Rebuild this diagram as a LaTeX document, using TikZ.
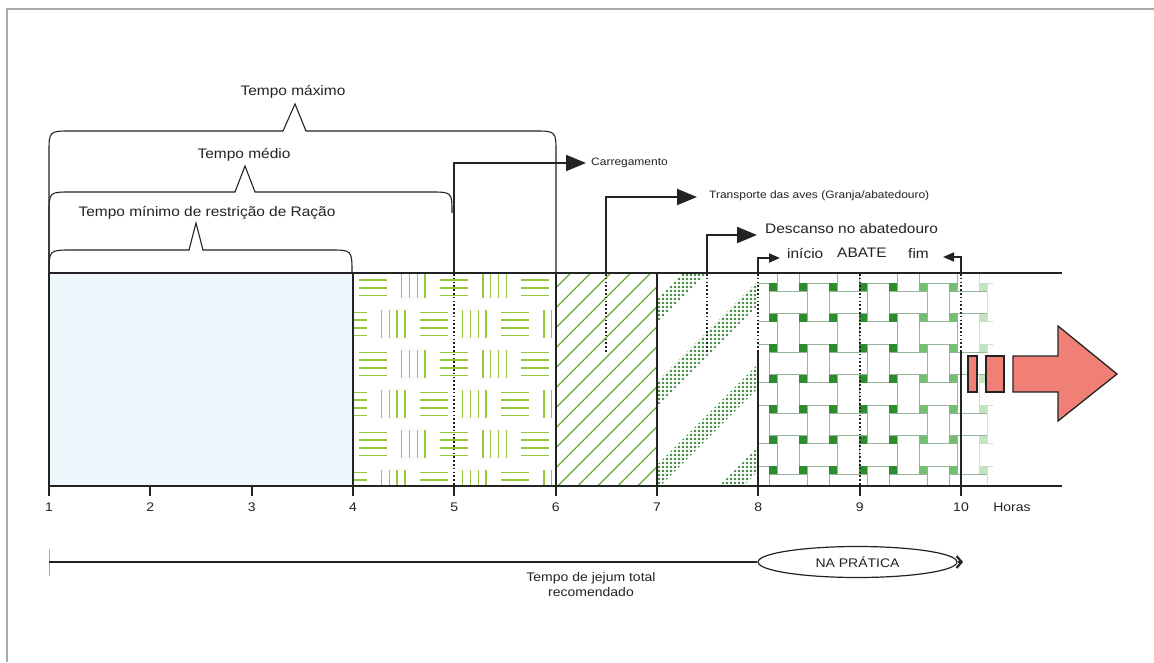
\documentclass[tikz,border=0pt]{standalone}
\usepackage{fontspec}
\setmainfont[FakeStretch=1.12]{Liberation Sans}
\usetikzlibrary{arrows.meta,shapes.geometric}
\definecolor{ink}{RGB}{35,35,35}
\definecolor{framegray}{RGB}{170,170,170}
\definecolor{bandblue}{RGB}{237,247,252}
\definecolor{limeg}{RGB}{150,200,60}
\definecolor{hatchg}{RGB}{105,172,50}
\definecolor{dotg}{RGB}{60,135,60}
\definecolor{weave}{RGB}{45,140,45}
\definecolor{weavemid}{RGB}{115,190,115}
\definecolor{weavefaint}{RGB}{195,228,195}
\definecolor{wline}{RGB}{150,180,150}
\definecolor{wlinefaint}{RGB}{210,225,210}
\definecolor{salmon}{RGB}{240,128,118}
\tikzset{
  bandline/.style={draw=ink, line width=1.8pt},
  brack/.style={draw=ink, line width=1.1pt},
  bigarrow/.style={draw=ink, line width=2pt, -{Triangle[length=20pt,width=16pt]}},
  smallarrow/.style={draw=ink, line width=1.8pt, -{Triangle[length=11pt,width=9pt]}},
  dotline/.style={draw=ink, line width=2pt, dash pattern=on 1.6pt off 2.2pt},
  greenline/.style={draw=limeg, line width=1.4pt},
  hatchline/.style={draw=hatchg, line width=1.3pt},
  bigtxt/.style={font=\fontsize{13.8}{16}\selectfont, inner sep=2pt, text=ink},
  smalltxt/.style={font=\fontsize{10.7}{13}\selectfont, inner sep=2pt, text=ink},
  axistxt/.style={font=\fontsize{12.5}{15}\selectfont, inner sep=1pt, text=ink},
  redbox/.style={fill=salmon, draw=ink, line width=1.3pt},
}
\begin{document}
\begin{tikzpicture}[x=1pt,y=-1pt]
\useasboundingbox (0,0) rectangle (1154,662);
\fill[white] (0,0) rectangle (1154,662);
% frame
\draw[framegray, line width=1.4pt] (7,662) -- (7,9) -- (1154,9);

% ---- region 1-4 : light blue
\fill[bandblue] (49,273) rectangle (353,486);

% ---- region 4-6 : groups of lines
\begin{scope}
\clip (353,273) rectangle (556,486);
\foreach \j in {0,...,5}{
  \pgfmathsetmacro\cy{284+40*\j}
  \pgfmathsetmacro\off{mod(\j,2)==0 ? 20.3 : 0}
  \foreach \k in {-1,...,6}{
    \pgfmathsetmacro\cx{352.5+\off+40.6*\k}
    \pgfmathtruncatemacro\hv{mod(\k+2,2)}
    \ifnum\hv=0
      \foreach \d in {-11.7,-3.9,3.9,11.7}
        \draw[greenline] (\cx-14,\cy+\d) -- (\cx+14,\cy+\d);
    \else
      \foreach \d in {-11.7,-3.9,3.9,11.7}
        \draw[greenline] (\cx+\d,\cy-14) -- (\cx+\d,\cy+14);
    \fi
  }
}
\end{scope}

% ---- region 6-7 : diagonal hatching
\begin{scope}
\clip (556,273) rectangle (657,486);
\foreach \c in {803.7,823.7,...,1163.7}
  \draw[hatchline] (540,\c-540) -- (680,\c-680);
\end{scope}

% ---- region 7-8 : dotted diagonal bands
\begin{scope}
\clip (657,273) rectangle (758,486);
\path[clip] \foreach \s in {956,1039,1122,1205} {
  (640,\s-640) -- (790,\s-790) -- (790,\s+24-790) -- (640,\s+24-640) -- cycle };
\foreach \x in {659,663,...,757}
  \foreach \y in {275,279,...,485}
    \fill[dotg] (\x,\y) circle (1.35);
\end{scope}

% ---- region 8-10 : basket weave
\begin{scope}
\clip (758,273) rectangle (993,486);
\foreach \i in {-1,...,7}{
  \foreach \j in {-1,...,7}{
    \pgfmathsetmacro\X{773+30*\i}
    \pgfmathsetmacro\Xn{\X+30}
    \pgfmathsetmacro\Y{287+30.5*\j}
    \pgfmathsetmacro\Yn{\Y+30.5}
    \pgfmathtruncatemacro\pq{mod(\i+\j+4,2)}
    \ifnum\i<7 \def\rc{wline}\else\def\rc{wlinefaint}\fi
    \ifnum\pq=0
      \filldraw[fill=white, draw=\rc, line width=0.8pt] (\X-4,\Y+4) rectangle (\Xn+4,\Yn-4);
    \else
      \filldraw[fill=white, draw=\rc, line width=0.8pt] (\X+4,\Y-4) rectangle (\Xn-4,\Yn+4);
    \fi
  }
}
\foreach \i in {-1,...,8}{
  \foreach \j in {-1,...,8}{
    \pgfmathsetmacro\X{773+30*\i}
    \pgfmathsetmacro\Y{287+30.5*\j}
    \ifnum\i<5 \def\sqc{weave}\else\ifnum\i<7 \def\sqc{weavemid}\else\def\sqc{weavefaint}\fi\fi
    \fill[\sqc] (\X-4,\Y-4) rectangle (\X+4,\Y+4);
  }
}
\end{scope}

% ---- dotted markers inside band
\draw[dotline] (454.3,274) -- (454.3,485);
\draw[dotline] (859.7,274) -- (859.7,485);
\draw[dotline] (606,274) -- (606,353);
\draw[dotline] (707,274) -- (707,352);
\draw[dotline] (758.3,274) -- (758.3,352);
\draw[dotline] (961,274) -- (961,352);

% ---- band lines
\draw[bandline] (49,273) -- (1062,273);
\draw[bandline] (49,486) -- (1062,486);
\foreach \x in {49,353,555.7,657}
  \draw[bandline] (\x,273) -- (\x,496);
\foreach \x in {758.3,961}
  \draw[bandline] (\x,352) -- (\x,496);
\foreach \x in {150.3,251.7,454.3,859.7}
  \draw[bandline] (\x,486) -- (\x,496);

% ---- axis labels
\foreach \h/\x in {1/49,2/150.3,3/251.7,4/353,5/454.3,6/555.7,7/657,8/758.3,9/859.7,10/961}
  \node[axistxt] (h\h) at (\x,507) {\h};
\node[axistxt] (horas) at (1012,507) {Horas};

% ---- brackets
\draw[brack] (49,273) -- (49,153) .. controls (49,131) .. (71,131) -- (283,131) -- (295,104) -- (306,131)
  -- (534,131) .. controls (556,131) .. (556,153) -- (556,273);
\draw[brack] (49,273) -- (49,214) .. controls (49,192) .. (71,192) -- (235,192) -- (245,166) -- (255,192)
  -- (430,192) .. controls (452,192) .. (452,213);
\draw[brack] (49,273) .. controls (49,250) .. (72,250) -- (189,250) -- (196,223) -- (203,250)
  -- (330,250) .. controls (352,250) .. (352,273);
\node[bigtxt] (tmax) at (293,92) {Tempo máximo};
\node[bigtxt] (tmed) at (244,155) {Tempo médio};
\node[bigtxt] (tmin) at (207,213) {Tempo mínimo de restrição de Ração};

% ---- step arrows
\coordinate (c5) at (454.3,273);
\coordinate (c65) at (606,273);
\coordinate (c75) at (707,273);
\coordinate (c8) at (758.3,273);
\coordinate (c10) at (961,273);
\node[smalltxt, anchor=west] (carreg) at (589,163) {Carregamento};
\node[smalltxt, anchor=west] (transp) at (707,196) {Transporte das aves (Granja/abatedouro)};
\node[bigtxt, anchor=west] (desc) at (763,229) {Descanso no abatedouro};
\node[bigtxt, anchor=west] (inicio) at (785,253) {início};
\node[bigtxt, anchor=west] (abate) at (835,253) {ABATE};
\node[bigtxt, anchor=east] (fim) at (931,253) {fim};
\draw[bigarrow, shorten >=3pt] (c5) |- (carreg.west);
\draw[bigarrow, shorten >=10pt] (c65) |- ([yshift=-1pt]transp.west);
\draw[bigarrow, shorten >=6pt] (c75) |- ([yshift=-6pt]desc.west);
\draw[smallarrow, shorten >=5pt] (c8) |- ([yshift=-5pt]inicio.west);
\draw[smallarrow, shorten >=12pt] (c10) |- ([yshift=-4pt]fim.east);

% ---- red arrow
\node[redbox, minimum width=9pt, minimum height=36pt, inner sep=0pt] (rb1) at (972.5,374) {};
\node[redbox, minimum width=18pt, minimum height=36pt, inner sep=0pt] (rb2) at (995,374) {};
\draw[redbox, line join=miter] (1013,356) -- (1058,356) -- (1058,326) -- (1117,374) -- (1058,421)
  -- (1058,392) -- (1013,392) -- cycle;

% ---- bottom arrow
\coordinate (js) at (49,562);
\coordinate (natip) at (963,562);
\node[ellipse, draw=ink, line width=1.2pt, fill=white, minimum width=199pt, minimum height=31pt,
      inner sep=0pt, axistxt] (na) at (857.5,562) {NA PRÁTICA};
\draw[framegray, line width=0.8pt] (49,549) -- (49,576);
\draw[draw=ink, line width=2.4pt] (js) -- (na.west);
\draw[draw=ink, line width=2.2pt, -{Straight Barb[length=5pt,width=12pt]}] (na.east) -- (natip);
\node[axistxt, align=center] (jejum) at (591,585) {Tempo de jejum total\\recomendado};
\end{tikzpicture}
\end{document}
